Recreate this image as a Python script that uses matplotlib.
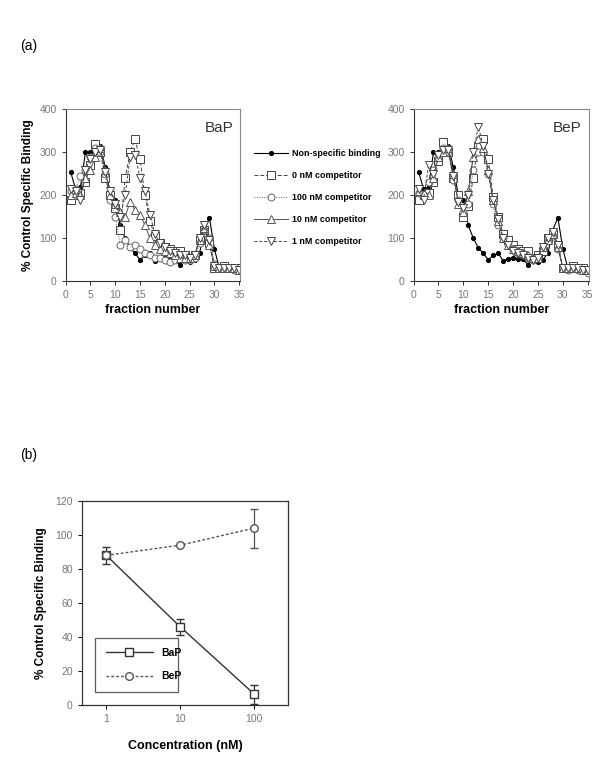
import matplotlib
matplotlib.use("Agg")
import matplotlib.pyplot as plt
from matplotlib.lines import Line2D

plt.rcParams['font.family'] = ['Liberation Sans', 'DejaVu Sans']

fractions = list(range(1, 37))

nonspecific = [255, 215, 220, 300, 300, 310, 315, 265, 200, 190, 130, 100, 78, 65, 50, 60, 65, 48,
               52, 55, 52, 52, 38, 50, 45, 50, 65, 120, 148, 75, 30, 28, 30, 28, 25, 20]

bap_0nM = [190, 200, 205, 230, 270, 320, 300, 240, 200, 170, 120, 240, 300, 330, 285, 200, 140, 105,
           90, 80, 75, 70, 70, 60, 55, 60, 95, 120, 90, 30, 30, 35, 30, 30, 30, 25]
bap_100nM = [210, 215, 245, 260, 290, 310, 300, 250, 190, 150, 85, 95, 80, 85, 75, 65, 60, 55,
             55, 50, 45, 50, 55, 50, 50, 55, 90, 120, 100, 40, 30, 30, 30, 25, 25, 20]
bap_10nM = [200, 205, 200, 240, 260, 290, 310, 260, 200, 180, 160, 150, 185, 165, 155, 130, 100, 85,
            75, 70, 65, 60, 55, 55, 55, 60, 95, 125, 85, 35, 30, 30, 30, 30, 25, 25]
bap_1nM = [215, 210, 190, 260, 285, 300, 305, 255, 210, 180, 150, 200, 290, 295, 240, 210, 155, 110,
           90, 80, 70, 65, 60, 60, 55, 60, 100, 130, 95, 35, 30, 30, 30, 30, 25, 25]

bep_0nM = [190, 200, 205, 230, 280, 325, 300, 240, 200, 150, 175, 240, 315, 330, 285, 195, 150, 110,
           95, 85, 75, 70, 70, 55, 60, 70, 100, 110, 85, 30, 30, 35, 30, 30, 25, 25]
bep_100nM = [205, 200, 230, 260, 290, 310, 300, 235, 190, 160, 180, 260, 300, 300, 250, 180, 130, 100,
             85, 75, 65, 60, 55, 50, 55, 80, 100, 105, 75, 30, 25, 30, 25, 25, 20, 20]
bep_10nM = [210, 205, 200, 240, 290, 300, 310, 250, 180, 160, 210, 290, 330, 310, 260, 190, 140, 100,
            85, 75, 70, 65, 60, 55, 55, 80, 95, 110, 80, 30, 30, 30, 30, 25, 25, 20]
bep_1nM = [215, 190, 270, 250, 295, 305, 305, 245, 185, 170, 200, 300, 360, 315, 250, 190, 145, 100,
           85, 70, 65, 60, 55, 50, 55, 80, 100, 115, 85, 30, 30, 30, 30, 25, 25, 20]

series_labels = ['Non-specific binding', '0 nM competitor', '100 nM competitor',
                 '10 nM competitor', '1 nM competitor']

conc = [1, 10, 100]
bap_b = [88, 46, 6.5]
bap_err = [5, 4.5, 5.5]
bep_b = [88, 94, 104]
bep_err = [0, 0, 11.5]

fig = plt.figure(figsize=(6.02, 7.6), dpi=100)

grey = '#777777'

styles = [
    dict(color='black', ls='-', marker='o', ms=3, mfc='black', lw=0.8),
    dict(color='#444444', ls=(0, (4, 2)), marker='s', ms=5.5, mfc='white', lw=0.7),
    dict(color='#666666', ls=(0, (1, 1.5)), marker='o', ms=5, mfc='white', lw=0.7),
    dict(color='#555555', ls='-', marker='^', ms=5.5, mfc='white', lw=0.7),
    dict(color='#444444', ls=(0, (3, 2)), marker='v', ms=5.5, mfc='white', lw=0.7),
]


def top_panel(rect, data, name, ylabel):
    ax = fig.add_axes(rect)
    handles = []
    for d, st, lab in zip(data, styles, series_labels):
        h, = ax.plot(fractions, d, mec=st['color'], mew=0.7, label=lab, **st)
        handles.append(h)
    ax.set_xlim(0, 35.2)
    ax.set_ylim(0, 400)
    ax.set_xticks(range(0, 36, 5))
    ax.set_yticks(range(0, 401, 100))
    for s in ax.spines.values():
        s.set_color('#888888')
        s.set_linewidth(0.8)
    ax.spines['left'].set_color('#333333')
    ax.spines['bottom'].set_color('#333333')
    ax.tick_params(labelsize=7.5, colors='#333333', labelcolor=grey, length=3, width=0.7)
    ax.text(0.96, 0.93, name, transform=ax.transAxes, ha='right', va='top', fontsize=11, color='#333333')
    ax.set_xlabel('fraction number', fontsize=9, fontweight='bold', labelpad=3)
    if ylabel:
        ax.set_ylabel('% Control Specific Binding', fontsize=8.5, fontweight='bold', labelpad=4)
    return ax, handles


ax1, handles = top_panel([0.109, 0.630, 0.290, 0.226],
                         [nonspecific, bap_0nM, bap_100nM, bap_10nM, bap_1nM], 'BaP', True)
ax2, _ = top_panel([0.687, 0.630, 0.291, 0.226],
                   [nonspecific, bep_0nM, bep_100nM, bep_10nM, bep_1nM], 'BeP', False)

fig.legend(handles=handles, loc='upper left', bbox_to_anchor=(0.408, 0.814), frameon=False,
           prop=dict(size=6.4, weight='bold'), handlelength=3.9, labelspacing=1.45,
           handletextpad=0.45)

fig.text(0.033, 0.94, '(a)', fontsize=10, va='center')
fig.text(0.033, 0.401, '(b)', fontsize=10, va='center')

# bottom panel
ax3 = fig.add_axes([0.136, 0.072, 0.343, 0.269])
ax3.errorbar(conc, bap_b, yerr=bap_err, color='#333333', ls='-', marker='s', ms=6, mfc='white',
             mec='#333333', lw=1.0, capsize=3, elinewidth=0.9)
ax3.errorbar(conc, bep_b, yerr=bep_err, color='#555555', ls=(0, (2, 1.5)), marker='o', ms=5.5,
             mfc='white', mec='#555555', lw=1.0, capsize=3, elinewidth=0.9)
ax3.set_xscale('log')
ax3.set_xlim(10 ** -0.33, 10 ** 2.46)
ax3.set_ylim(0, 120)
ax3.set_xticks(conc)
ax3.set_xticklabels(['1', '10', '100'])
ax3.minorticks_off()
ax3.set_yticks(range(0, 121, 20))
ax3.tick_params(labelsize=7.5, labelcolor=grey, length=3, width=0.7)
for s in ax3.spines.values():
    s.set_linewidth(0.9)
    s.set_color('#333333')
ax3.set_xlabel('Concentration (nM)', fontsize=9, fontweight='bold', labelpad=11)
ax3.set_ylabel('% Control Specific Binding', fontsize=8.5, fontweight='bold', labelpad=6)
leg_handles = [
    Line2D([], [], color='#333333', ls='-', marker='s', ms=6, mfc='white', mec='#333333', lw=1.0),
    Line2D([], [], color='#555555', ls=(0, (2, 1.5)), marker='o', ms=5.5, mfc='white',
           mec='#555555', lw=1.0),
]
leg = ax3.legend(leg_handles, ['BaP', 'BeP'], loc='lower left',
                 bbox_to_anchor=(0.04, 0.04, 0.45, 0.28), mode='expand',
                 fancybox=False, edgecolor='#333333', prop=dict(size=7.5, weight='bold'),
                 handlelength=4.5, labelspacing=1.3, borderpad=1.0, handletextpad=0.8)
leg.get_frame().set_linewidth(0.9)

fig.savefig('out.png', dpi=100)
